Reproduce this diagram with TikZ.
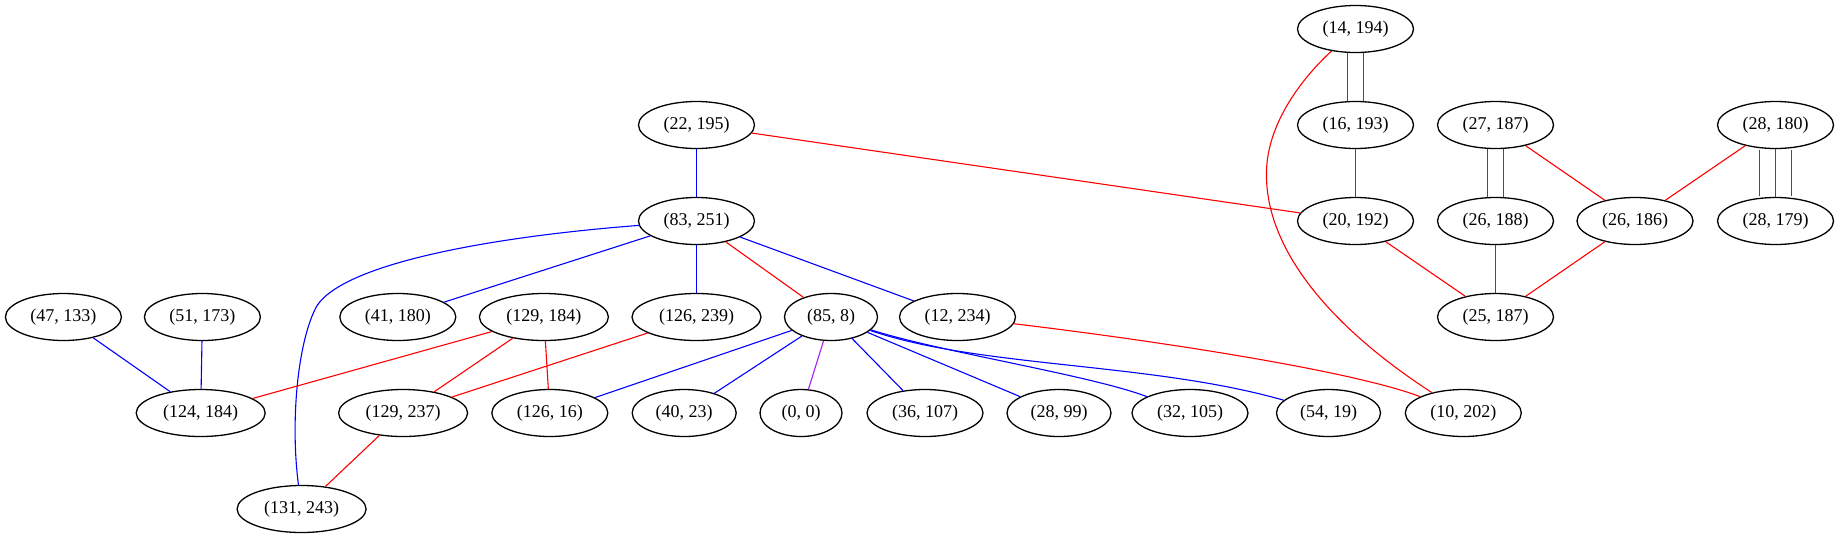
\documentclass[tikz,border=0pt]{standalone}
\usepackage{fontspec}
\setmainfont{Liberation Serif}
\usetikzlibrary{shapes.geometric}
\definecolor{gvpurple}{RGB}{160,32,240}
\tikzset{
  nd/.style={ellipse, draw=black, line width=1.3pt, inner sep=0pt, minimum height=47pt, font=\fontsize{18}{20}\selectfont},
  wa/.style={minimum width=82pt},
  wb/.style={minimum width=93pt},
  wc/.style={minimum width=104pt},
  wd/.style={minimum width=116pt},
  we/.style={minimum width=129pt},
  rl/.style={draw=red, line width=1.1pt},
  bl/.style={draw=blue, line width=1.1pt},
  pl/.style={draw=gvpurple, line width=1.1pt}
}
\begin{document}
\begin{tikzpicture}[x=1pt,y=-1pt]
\useasboundingbox (0,0) rectangle (1839,539);
% row 1
\node[nd,wd] (n14194) at (1355.5,29) {(14, 194)};
% row 2
\node[nd,wd] (n22195) at (696.5,125) {(22, 195)};
\node[nd,wd] (n16193) at (1355.5,125) {(16, 193)};
\node[nd,wd] (n27187) at (1495.5,125) {(27, 187)};
\node[nd,wd] (n28180) at (1775.5,125) {(28, 180)};
% row 3
\node[nd,wd] (n83251) at (696.5,221) {(83, 251)};
\node[nd,wd] (n20192) at (1355.5,221) {(20, 192)};
\node[nd,wd] (n26188) at (1495.5,221) {(26, 188)};
\node[nd,wd] (n26186) at (1635,221) {(26, 186)};
\node[nd,wd] (n28179) at (1775.5,221) {(28, 179)};
% row 4
\node[nd,wd] (n47133) at (63.4,317) {(47, 133)};
\node[nd,wd] (n51173) at (202.4,317) {(51, 173)};
\node[nd,wd] (n41180) at (397.8,317) {(41, 180)};
\node[nd,we] (n129184) at (543.9,317) {(129, 184)};
\node[nd,we] (n126239) at (696.5,317) {(126, 239)};
\node[nd,wb] (n858) at (831,317) {(85, 8)};
\node[nd,wd] (n12234) at (957.5,317) {(12, 234)};
\node[nd,wd] (n25187) at (1495.5,317) {(25, 187)};
% row 5
\node[nd,we] (n124184) at (200.7,413) {(124, 184)};
\node[nd,we] (n129237) at (403.1,413) {(129, 237)};
\node[nd,wd] (n12616) at (549.8,413) {(126, 16)};
\node[nd,wc] (n4023) at (684.2,413) {(40, 23)};
\node[nd,wa] (n00) at (801,413) {(0, 0)};
\node[nd,wd] (n36107) at (925,413) {(36, 107)};
\node[nd,wc] (n2899) at (1059,413) {(28, 99)};
\node[nd,wd] (n32105) at (1190,413) {(32, 105)};
\node[nd,wc] (n5419) at (1328.5,413) {(54, 19)};
\node[nd,wd] (n10202) at (1463.3,413) {(10, 202)};
% row 6
\node[nd,we] (n131243) at (301.6,509) {(131, 243)};

% blue edges
\draw[bl] (n22195) -- (n83251);
\draw[bl] (n83251) .. controls (500,236) and (345,262) .. (316.8,306) .. controls (298,340) and (290,420) .. (n131243);
\draw[bl] (n83251) -- (n41180);
\draw[bl] (n83251) -- (n126239);
\draw[bl] (n83251) -- (n12234);
\draw[bl] (n47133) -- (n124184);
\draw[bl] (n51173) -- (n124184);
\draw[bl] (n858) -- (n12616);
\draw[bl] (n858) -- (n4023);
\draw[pl] (n858) -- (n00);
\draw[bl] (n858) -- (n36107);
\draw[bl] (n858) -- (n2899);
\draw[bl] (n858) .. controls (940,352) and (1090,375) .. (n32105);
\draw[bl] (n858) .. controls (980,368) and (1150,362) .. (n5419);

% red edges
\draw[rl] (n83251) -- (n858);
\draw[rl] (n129184) -- (n124184);
\draw[rl] (n129184) -- (n129237);
\draw[rl] (n129184) -- (n12616);
\draw[rl] (n126239) -- (n129237);
\draw[rl] (n129237) -- (n131243);
\draw[rl] (n22195) -- (n20192);
\draw[rl] (n12234) .. controls (1150,340) and (1350,370) .. (n10202);
\draw[rl] (n14194) .. controls (1300,80) and (1269.5,122.7) .. (1266.7,166.7) .. controls (1262,240) and (1320,320) .. (n10202);
\draw[rl] ([xshift=-8pt]n14194.south) -- ([xshift=-8pt]n16193.north);
\draw[rl] ([xshift=8pt]n14194.south) -- ([xshift=8pt]n16193.north);
\draw[rl] (n16193) -- (n20192);
\draw[rl] (n20192) -- (n25187);
\draw[rl] ([xshift=-8pt]n27187.south) -- ([xshift=-8pt]n26188.north);
\draw[rl] ([xshift=8pt]n27187.south) -- ([xshift=8pt]n26188.north);
\draw[rl] (n27187) -- (n26186);
\draw[rl] (n28180) -- (n26186);
\draw[rl] ([xshift=-16pt,yshift=-0.9pt]n28180.south) -- ([xshift=-16pt,yshift=0.9pt]n28179.north);
\draw[rl] (n28180) -- (n28179);
\draw[rl] ([xshift=16pt,yshift=-0.9pt]n28180.south) -- ([xshift=16pt,yshift=0.9pt]n28179.north);
\draw[rl] (n26188) -- (n25187);
\draw[rl] (n26186) -- (n25187);
\end{tikzpicture}
\end{document}
